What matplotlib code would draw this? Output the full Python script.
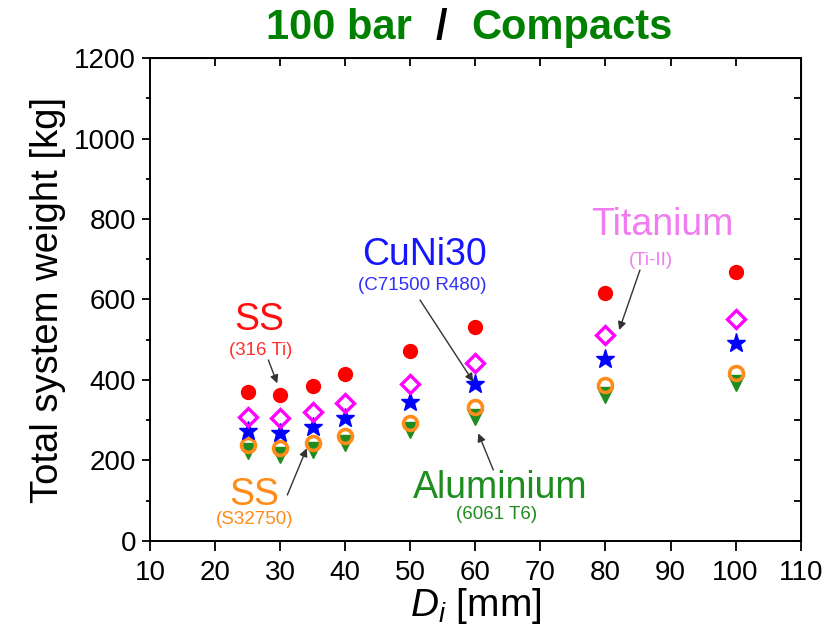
import matplotlib
matplotlib.use("Agg")
import matplotlib.pyplot as plt
from matplotlib.ticker import MultipleLocator

plt.rcParams['font.family'] = ['Liberation Sans', 'DejaVu Sans']
plt.rcParams['mathtext.fontset'] = 'custom'
plt.rcParams['mathtext.it'] = 'Liberation Sans:italic'
plt.rcParams['mathtext.rm'] = 'Liberation Sans'

# Data
di = [25, 30, 35, 40, 50, 60, 80, 100]
ss316 = [371, 362, 385, 414, 471, 531, 617, 669]
titanium = [308, 304, 321, 342, 391, 441, 511, 552]
cuni30 = [274, 267, 284, 304, 345, 390, 453, 491]
ss32750 = [237, 230, 242, 260, 293, 332, 387, 416]
aluminium = [222, 213, 226, 242, 275, 308, 362, 393]

fig = plt.figure(figsize=(8.4, 6.44), dpi=100)
ax = fig.add_axes([0.1786, 0.1604, 0.9532 - 0.1786, 0.9095 - 0.1604])

green_m = '#1e8c1e'
orange = '#ff8c1a'
ax.plot(di, aluminium, linestyle='none', marker='v', ms=11, color=green_m, mec=green_m, zorder=3)
ax.plot(di, ss32750, linestyle='none', marker='o', ms=10, mfc='none', mec=orange, mew=2.6, zorder=4)
ax.plot(di, cuni30, linestyle='none', marker='*', ms=14, color='#0000ff', mec='#0000ff', zorder=4)
ax.plot(di, titanium, linestyle='none', marker='D', ms=9, mfc='none', mec='#ff00ff', mew=2.4, zorder=4)
ax.plot(di, ss316, linestyle='none', marker='o', ms=10, color='#ff0000', mec='#ff0000', zorder=4)

ax.set_xlim(10, 110)
ax.set_ylim(0, 1200)
ax.xaxis.set_major_locator(MultipleLocator(10))
ax.yaxis.set_major_locator(MultipleLocator(200))
ax.yaxis.set_minor_locator(MultipleLocator(100))
ax.tick_params(axis='x', which='major', direction='out', length=7, width=1.3, labelsize=20, pad=7, top=False)
ax.tick_params(axis='y', which='major', direction='out', length=6, width=1.3, labelsize=20, pad=4, right=False)
ax.tick_params(axis='y', which='minor', direction='out', length=3, width=1.3, right=False)
for s in ax.spines.values():
    s.set_linewidth(1.4)

sec_x = ax.secondary_xaxis('top')
sec_x.xaxis.set_major_locator(MultipleLocator(10))
sec_x.tick_params(direction='in', length=6, width=1.3, labeltop=False)
sec_y = ax.secondary_yaxis('right')
sec_y.yaxis.set_major_locator(MultipleLocator(100))
sec_y.tick_params(direction='in', length=5, width=1.3, labelright=False)

ax.set_ylabel('Total system weight [kg]', fontsize=27.5, labelpad=6)
ax.set_xlabel(r'$D_i$ [mm]', fontsize=28, labelpad=0)

# Title with black slash
tg = '#008000'
fig.text(0.490, 0.956, '100 bar', color=tg, fontsize=30, fontweight='bold', ha='right', va='center')
fig.text(0.525, 0.956, '/', color='black', fontsize=30, fontweight='bold', ha='center', va='center')
fig.text(0.561, 0.956, 'Compacts', color=tg, fontsize=30, fontweight='bold', ha='left', va='center')

# Annotations
ax.text(26.8, 549, 'SS', color='#ff1010', fontsize=27, ha='center', va='center')
ax.text(27.0, 474, '(316 Ti)', color='#ff3030', fontsize=13.5, ha='center', va='center')
ax.text(26.1, 114, 'SS', color=orange, fontsize=27, ha='center', va='center')
ax.text(26.1, 53, '(S32750)', color=orange, fontsize=13.5, ha='center', va='center')
ax.text(52.2, 711, 'CuNi30', color='#1515ff', fontsize=27, ha='center', va='center')
ax.text(51.8, 636, '(C71500 R480)', color='#3030ff', fontsize=13.5, ha='center', va='center')
ax.text(88.7, 785, 'Titanium', color='#f07cf0', fontsize=27, ha='center', va='center')
ax.text(87.0, 696, '(Ti-II)', color='#f07cf0', fontsize=13.5, ha='center', va='center')
ax.text(63.8, 131, 'Aluminium', color=green_m, fontsize=27, ha='center', va='center')
ax.text(63.2, 66, '(6061 T6)', color=green_m, fontsize=13.5, ha='center', va='center')

arrow = dict(arrowstyle='-|>', color='#333333', lw=1.0, mutation_scale=12, shrinkA=0, shrinkB=0)
ax.annotate('', xy=(29.56, 391.5), xytext=(28.18, 449.5), arrowprops=arrow)
ax.annotate('', xy=(34.08, 229.9), xytext=(31.1, 113.7), arrowprops=arrow)
ax.annotate('', xy=(59.68, 395.5), xytext=(51.49, 598.8), arrowprops=arrow)
ax.annotate('', xy=(82.1, 524), xytext=(85.3, 673.4), arrowprops=arrow)
ax.annotate('', xy=(60.45, 267), xytext=(62.76, 175.9), arrowprops=arrow)

fig.savefig('out.png', dpi=100)
